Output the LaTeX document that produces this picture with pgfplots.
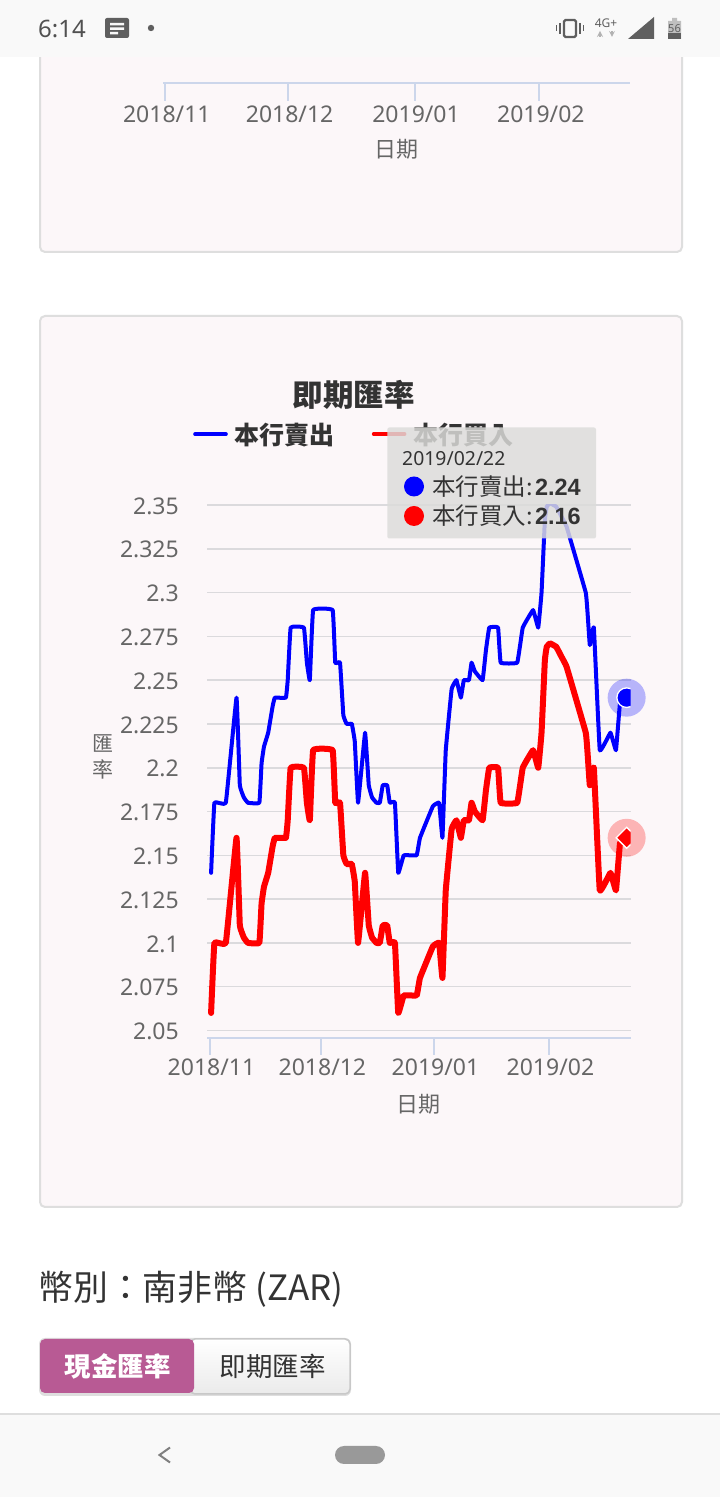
\documentclass[border=0pt]{standalone}
\usepackage{fontspec}
\usepackage{pgfplots}
\usepackage{pgfplotstable}
\pgfplotsset{compat=1.18}
\setmainfont{Noto Sans}
\newfontfamily\cjk{Noto Sans CJK TC}
\newfontfamily\numb{Liberation Sans}
\definecolor{cardbg}{HTML}{FCF7F9}
\definecolor{cardedge}{HTML}{DEDEDE}
\definecolor{gridc}{HTML}{DBDADD}
\definecolor{axisc}{HTML}{CCD6EB}
\definecolor{labc}{HTML}{666666}
\definecolor{txtc}{HTML}{333333}
\definecolor{tipc}{HTML}{DCDCDA}
\definecolor{barbg}{HTML}{F9F9F9}
\definecolor{iconc}{HTML}{5F5F5F}
\definecolor{pink}{HTML}{B85A94}
\definecolor{btnedge}{HTML}{C8C8C8}
\newcommand{\fs}[1]{\fontsize{#1pt}{#1pt}\selectfont}
\pgfdeclareplotmark{hovercircle}{%
  \begin{pgfscope}
  \pgfpathrectangle{\pgfpoint{-30pt}{-30pt}}{\pgfpoint{34pt}{60pt}}\pgfusepathqclip
  \pgfpathcircle{\pgfpointorigin}{9.8pt}\pgfusepathqfillstroke
  \end{pgfscope}}
\pgfdeclareplotmark{hoverdiamond}{%
  \begin{pgfscope}
  \pgfpathrectangle{\pgfpoint{-30pt}{-30pt}}{\pgfpoint{34pt}{60pt}}\pgfusepathqclip
  \pgfpathmoveto{\pgfpoint{-10.5pt}{0pt}}\pgfpathlineto{\pgfpoint{0pt}{10.5pt}}
  \pgfpathlineto{\pgfpoint{10.5pt}{0pt}}\pgfpathlineto{\pgfpoint{0pt}{-10.5pt}}\pgfpathclose
  \pgfusepathqfillstroke
  \end{pgfscope}}
\pgfplotstableread{
day sell buy
0.3 2.14 2.06
1.2 2.18 2.10
4.3 2.18 2.10
7.2 2.24 2.16
8.1 2.19 2.11
9.2 2.183 2.103
10.3 2.18 2.10
13.4 2.18 2.10
14.0 2.2025 2.1225
14.65 2.212 2.132
15.8 2.22 2.14
17.0 2.235 2.155
17.6 2.24 2.16
20.6 2.24 2.16
21.1 2.25 2.17
21.9 2.28 2.20
25.5 2.28 2.20
26.3 2.26 2.18
27.1 2.25 2.17
28.0 2.29 2.21
33.3 2.29 2.21
34.0 2.26 2.18
35.3 2.26 2.18
36.2 2.23 2.15
37.1 2.225 2.145
38.5 2.225 2.145
39.3 2.215 2.135
40.2 2.18 2.10
42.1 2.22 2.14
43.1 2.19 2.11
44.0 2.183 2.103
45.2 2.18 2.10
46.1 2.18 2.10
46.9 2.19 2.11
48.1 2.19 2.11
48.8 2.18 2.10
50.2 2.18 2.10
51.1 2.14 2.06
52.6 2.15 2.07
56.1 2.15 2.07
57.0 2.16 2.08
60.5 2.178 2.098
62.2 2.18 2.10
63.1 2.16 2.08
64.0 2.21 2.13
65.6 2.245 2.165
66.9 2.25 2.17
68.1 2.24 2.16
68.9 2.25 2.17
70.3 2.25 2.17
71.0 2.26 2.18
71.9 2.255 2.175
74.0 2.25 2.17
74.9 2.267 2.187
75.8 2.28 2.20
78.2 2.28 2.20
78.9 2.26 2.18
83.4 2.26 2.18
84.9 2.28 2.20
87.7 2.29 2.21
89.1 2.28 2.20
90.0 2.30 2.22
90.9 2.3414 2.2614
91.4 2.349 2.269
92.3 2.351 2.271
94.0 2.349 2.269
95.5 2.343 2.263
96.8 2.3376 2.2576
102.0 2.30 2.22
102.6 2.285 2.205
103.1 2.27 2.19
104.2 2.28 2.20
105.8 2.21 2.13
108.7 2.22 2.14
110.2 2.21 2.13
111.3 2.237 2.157
113.1 2.24 2.16
}\rates
\begin{document}
\begin{tikzpicture}
\path[use as bounding box] (0pt,0pt) rectangle (720pt,1497pt);
\begin{scope}[x=1pt,y=-1pt,shift={(0pt,1497pt)}]
\fill[white] (0,0) rectangle (720,1497);
% cards
\draw[fill=cardbg,draw=cardedge,line width=2pt,rounded corners=5pt] (40,20) rectangle (682,252);
\draw[fill=cardbg,draw=cardedge,line width=2pt,rounded corners=5pt] (40,316) rectangle (682,1207);
% lower text and buttons
\node[anchor=west,inner sep=0pt,text=txtc,font=\fs{34.9}\cjk] at (38,1289) {幣別：南非幣 (ZAR)};
\fill[btnedge!60,rounded corners=6pt] (39,1338) rectangle (351,1396);
\shade[top color=white,bottom color=black!8,rounded corners=5pt,draw=btnedge,line width=1.5pt] (190,1339) rectangle (350,1394);
\fill[pink,rounded corners=5pt] (40,1339) rectangle (194,1393);
\node[text=white,font=\fs{26.5}\cjk\bfseries] at (117.5,1366) {現金匯率};
\node[text=txtc,font=\fs{26.5}\cjk] at (272.5,1366) {即期匯率};
\end{scope}
% previous chart, only its foot is in view
\begin{axis}[
  at={(163pt,1414pt)},anchor=south west,scale only axis,
  width=467.4pt,height=20pt,
  xmin=-0.57,xmax=114.4,ymin=0,ymax=1,
  axis x line*=bottom,axis y line=none,
  axis line style={draw=axisc,line width=2pt},
  xtick={0,30.2,61.3,92},
  xticklabels={2018/11,2018/12,2019/01,2019/02},
  xtick style={draw=axisc,line width=2pt},
  xtick align=outside,major tick length=18pt,
  xticklabel style={text=labc,font=\fs{23},inner sep=0pt,anchor=center,yshift=-13pt,xshift=1.5pt},
  every axis x label/.style={at={(rel axis cs:0.5005,-3.33)},anchor=center,text=labc,font=\fs{22}\cjk},
  xlabel={日期},
]
\end{axis}
% main chart
\begin{axis}[
  at={(207pt,459pt)},anchor=south west,scale only axis,
  width=423.7pt,height=533pt,
  xmin=-0.81,xmax=114.2,ymin=2.0457,ymax=2.35,
  axis x line*=bottom,axis y line*=left,
  x axis line style={draw=axisc,line width=2pt},
  y axis line style={draw=none},
  ymajorgrids,grid style={draw=gridc,line width=1.6pt},
  ytick={2.05,2.075,2.1,2.125,2.15,2.175,2.2,2.225,2.25,2.275,2.3,2.325,2.35},
  yticklabels={2.05,2.075,2.1,2.125,2.15,2.175,2.2,2.225,2.25,2.275,2.3,2.325,2.35},
  xtick={0,30.1,60.8,92},
  xticklabels={2018/11,2018/12,2019/01,2019/02},
  xtick style={draw=axisc,line width=2pt},
  ytick style={draw=none},
  xtick align=outside,ytick align=inside,major tick length=17pt,
  xticklabel style={text=labc,font=\fs{23},inner sep=0pt,anchor=center,yshift=-12pt,xshift=1.5pt},
  yticklabel style={text=labc,font=\fs{23},inner sep=0pt,anchor=east,xshift=-28pt,yshift=-1pt},
  every axis x label/.style={at={(rel axis cs:0.5003,-0.1238)},anchor=center,text=labc,font=\fs{22}\cjk},
  every axis y label/.style={at={(rel axis cs:-0.2455,0.527)},anchor=center,align=center,text=labc,font=\fontsize{21pt}{26pt}\selectfont\cjk},
  xlabel={日期},ylabel={匯\\率},
  legend columns=2,
  legend style={draw=none,fill=none,at={(rel axis cs:-0.033,1.133)},anchor=west,inner sep=0pt,
    font=\fs{25}\cjk\bfseries,text=txtc,
    /tikz/every odd column/.append style={column sep=5pt},
    /tikz/every even column/.append style={column sep=35pt}},
  legend cell align=left,
  legend image code/.code={\draw[#1,line width=3.6pt] (0pt,0pt)--(31pt,0pt);},
]
\addplot[blue,line width=4pt,line join=round,line cap=round,smooth,tension=0.12] table[x=day,y=sell] {\rates};
\addplot[red,line width=6pt,line join=round,line cap=round,smooth,tension=0.12] table[x=day,y=buy] {\rates};
\legend{本行賣出,本行買入}
\addplot[forget plot,only marks,mark=*,mark size=19pt,mark options={draw opacity=0,fill=blue,fill opacity=.27}] coordinates {(113.1,2.24)};
\addplot[forget plot,only marks,mark=*,mark size=19pt,mark options={draw opacity=0,fill=red,fill opacity=.27}] coordinates {(113.1,2.16)};
\addplot[forget plot,only marks,mark=hovercircle,mark options={fill=blue,draw=white,line width=1.3pt}] coordinates {(113.1,2.24)};
\addplot[forget plot,only marks,mark=hoverdiamond,mark options={fill=red,draw=white,line width=1.3pt}] coordinates {(113.1,2.16)};
\end{axis}
\begin{scope}[x=1pt,y=-1pt,shift={(0pt,1497pt)}]
\node[text=txtc,font=\fs{30.5}\cjk\bfseries] at (353.5,395) {即期匯率};
% tooltip
\fill[tipc,fill opacity=.83,rounded corners=2pt] (387.3,427.5) rectangle (596,538.5);
\node[anchor=west,inner sep=0pt,text=txtc,font=\fs{19.4}] at (402,459) {2019/02/22};
\fill[blue] (414,486.5) circle (10);
\fill[red] (414,516) circle (10);
\node[anchor=west,inner sep=0pt,text=txtc,font=\fs{23.5}\cjk] at (432,487) {本行賣出:};
\node[anchor=west,inner sep=0pt,text=txtc,font=\fs{23.5}\cjk] at (432,516) {本行買入:};
\node[anchor=east,inner sep=0pt,text=txtc,font=\fs{23.5}\numb\bfseries] at (581,487) {2.24};
\node[anchor=east,inner sep=0pt,text=txtc,font=\fs{23.5}\numb\bfseries] at (581,516) {2.16};
% status bar
\fill[barbg] (0,0) rectangle (720,57);
\node[anchor=west,inner sep=0pt,text=iconc!85!black,font=\fs{24}] at (38,29) {6:14};
\fill[iconc,rounded corners=2pt] (105,18) rectangle (129,38);
\fill[barbg] (110,23) rectangle (124,25.5) (110,27.5) rectangle (124,30) (110,32) rectangle (118,34.5);
\fill[iconc] (151,28) circle (3.2);
\draw[iconc,line width=2.4pt,rounded corners=1.5pt] (564,20) rectangle (576,37);
\draw[iconc,line width=2pt] (560,23)--(560,34) (580,23)--(580,34);
\draw[iconc,line width=1.5pt] (556.5,25.5)--(556.5,31.5) (583.5,25.5)--(583.5,31.5);
\node[anchor=center,inner sep=0pt,text=iconc,font=\fs{12}\bfseries] at (606,23) {4G+};
\draw[black!30,line width=1.6pt,-stealth] (600,37)--(600,31);
\draw[black!30,line width=1.6pt,-stealth] (612,31)--(612,37);
\fill[iconc] (628,39)--(654,17)--(654,39)--cycle;
\fill[black!25] (672,18) rectangle (677,21) (668,21) rectangle (681,39);
\fill[iconc] (668,33) rectangle (681,39);
\node[inner sep=0pt,text=iconc,font=\fs{11}\bfseries] at (674.5,29) {56};
% nav bar
\fill[barbg] (0,1414) rectangle (720,1497);
\draw[black!13,line width=1.6pt] (0,1414)--(720,1414);
\draw[black!50,line width=2pt] (170,1447.5)--(159.5,1455)--(170,1462.5);
\fill[black!40,rounded corners=9pt] (335,1446) rectangle (385,1464);
\end{scope}
\end{tikzpicture}
\end{document}
